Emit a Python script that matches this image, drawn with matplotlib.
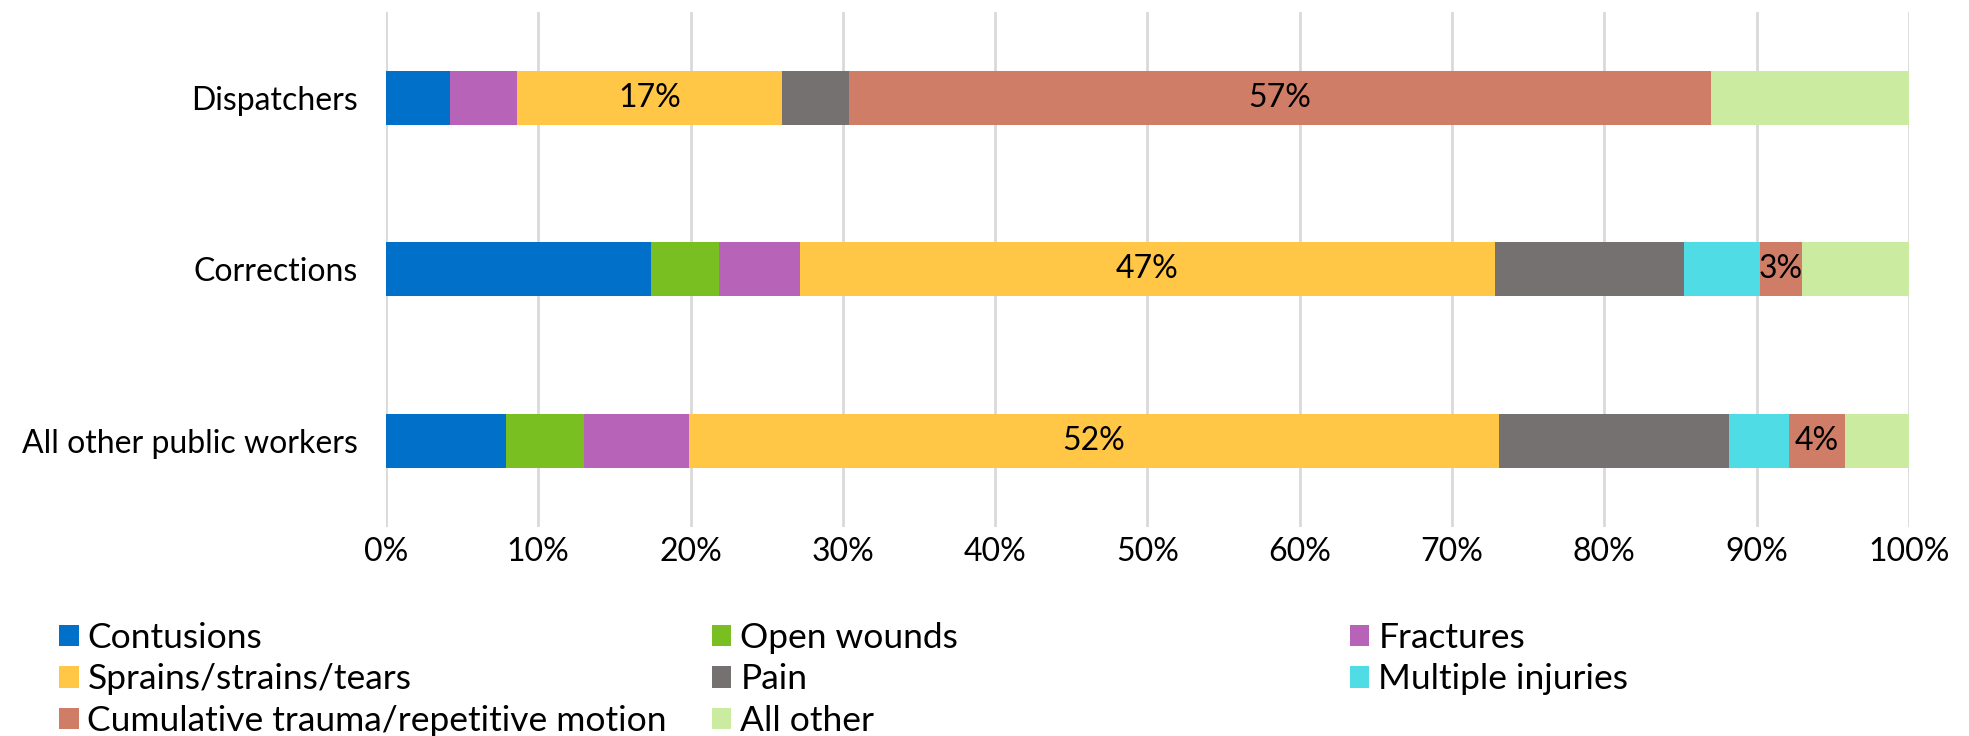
import numpy as np
import matplotlib.pyplot as plt
from matplotlib.ticker import FuncFormatter

plt.rcParams['font.family'] = ['Lato', 'DejaVu Sans']

# groups, top to bottom as in the picture
groups = ['Dispatchers', 'Corrections', 'All other public workers']

series = ['Contusions', 'Open wounds', 'Fractures', 'Sprains/strains/tears',
          'Pain', 'Multiple injuries', 'Cumulative trauma/repetitive motion',
          'All other']

contusions = [4.2, 17.4, 7.9]
open_wounds = [0.0, 4.5, 5.1]
fractures = [4.4, 5.3, 6.9]
sprains = [17.4, 45.6, 53.2]
pain = [4.4, 12.4, 15.1]
multiple = [0.0, 5.0, 3.9]
cumulative = [56.6, 2.8, 3.7]
all_other = [13.0, 7.0, 4.2]

sprain_labels = ['17%', '47%', '52%']
cumulative_labels = ['57%', '3%', '4%']

colors = ['#0070C8', '#7ABF21', '#B663B8', '#FFC745',
          '#767171', '#4FDCE4', '#D07D68', '#CBECA0']

data = [contusions, open_wounds, fractures, sprains, pain, multiple,
        cumulative, all_other]

fs = 23

fig = plt.figure(figsize=(19.69, 7.36), dpi=100)
ax = fig.add_axes([0.196, 0.284, 0.7735, 0.7])

y = np.arange(len(groups))[::-1]
left = np.zeros(len(groups))
bars = []
for name, vals, c in zip(series, data, colors):
    b = ax.barh(y, vals, left=left, height=0.315, color=c, label=name,
                zorder=3)
    bars.append(b)
    left = left + np.array(vals)

ax.bar_label(bars[3], labels=sprain_labels, label_type='center',
             fontsize=fs, color='black')
ax.bar_label(bars[6], labels=cumulative_labels, label_type='center',
             fontsize=fs, color='black')

ax.set_xlim(0, 100)
ax.set_ylim(-0.5, 2.5)
ax.set_xticks(np.arange(0, 101, 10))
ax.xaxis.set_major_formatter(FuncFormatter(lambda v, p: '%d%%' % v))
ax.set_yticks(y)
ax.set_yticklabels(groups)
ax.tick_params(axis='both', length=0, labelsize=fs)
ax.tick_params(axis='x', pad=7)
ax.tick_params(axis='y', pad=20)
ax.grid(axis='x', color='#D9D9D9', linewidth=2, zorder=0)
for s in ax.spines.values():
    s.set_visible(False)

# legend laid out in rows, three columns of different widths
cols = [[0, 3, 6], [1, 4, 7], [2, 5]]
col_x = [0.030, 0.3616, 0.6856]
for idx, cx in zip(cols, col_x):
    fig.legend([bars[i] for i in idx], [series[i] for i in idx],
               loc='upper left', bbox_to_anchor=(cx, 0.155), frameon=False,
               fontsize=25.5, handlelength=0.55, handleheight=0.55,
               handletextpad=0.25, labelspacing=0.27, borderpad=0,
               borderaxespad=0)

fig.savefig('out.png', dpi=100)
